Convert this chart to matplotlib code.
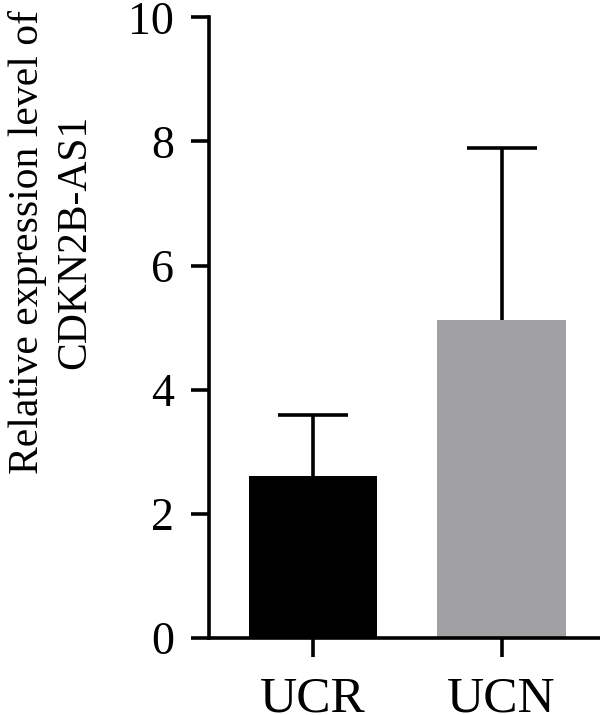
import matplotlib
matplotlib.use("Agg")
import matplotlib.pyplot as plt

categories = ["UCR", "UCN"]
means = [2.61, 5.12]
errors = [0.99, 2.77]
bar_colors = ["#000000", "#a1a1a4"]
yticks = [0, 2, 4, 6, 8, 10]

plt.rcParams['font.family'] = ['Liberation Serif', 'DejaVu Serif']

fig = plt.figure(figsize=(6, 7.15), dpi=100)
ax = fig.add_axes([209/600, 1-638/715, 1-209/600 + 0.05, (638-17.3)/715])

x = list(range(len(categories)))
tops = [m + e for m, e in zip(means, errors)]
ax.bar(x, means, width=0.68, color=bar_colors, zorder=2)
ax.vlines(x, means, tops, colors='black', linewidth=2.6, zorder=3)
ax.plot(x, tops, linestyle='none', marker='_', markersize=50, markeredgewidth=2.6,
        color='black', zorder=3)

ax.set_xlim(-0.55, 1.68)
ax.set_ylim(0, 10)
ax.set_yticks(yticks)
ax.set_yticklabels([str(t) for t in yticks])
ax.set_xticks(x)
ax.set_xticklabels(categories)

for s in ['top', 'right']:
    ax.spines[s].set_visible(False)
for s in ['left', 'bottom']:
    ax.spines[s].set_linewidth(2.6)
ax.tick_params(axis='y', length=13, width=2.6, pad=12, labelsize=33)
ax.tick_params(axis='x', length=14, width=2.6, pad=13, labelsize=37)

fig.text(0.085, 1-242/715, "Relative expression level of\nCDKN2B-AS1", rotation=90,
         ha='center', va='center', fontsize=30, linespacing=1.3)

fig.savefig("out.png", dpi=100)
